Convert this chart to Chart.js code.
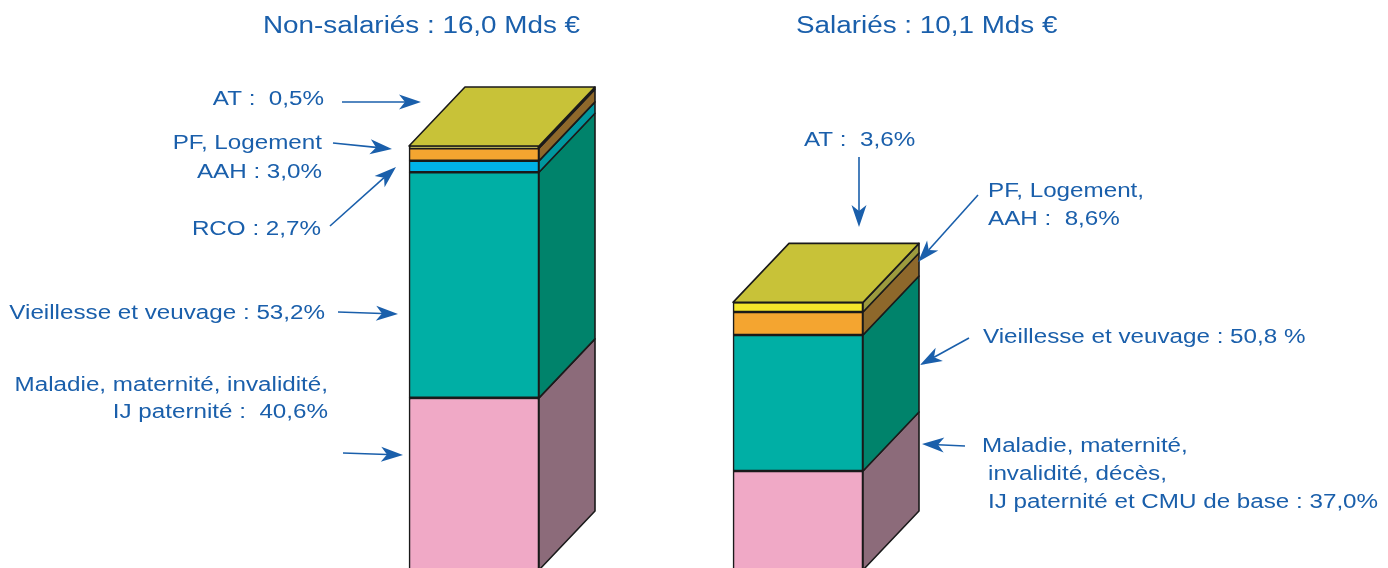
<!DOCTYPE html>
<html>
<head>
<meta charset="utf-8">
<script src="https://cdn.jsdelivr.net/npm/chart.js@4"></script>
<style>
html,body{margin:0;padding:0;background:#fff;overflow:hidden;}
#wrap{width:1388px;height:568px;overflow:hidden;position:relative;}
canvas{display:block;}
</style>
</head>
<body>
<div id="wrap"><canvas id="c" width="1388" height="600"></canvas></div>
<script>
// ---- data ----
const categories = ['Non-salariés', 'Salariés'];
const totalsMds = [16.0, 10.1];           // Mds €
const maladiePct = [40.6, 37.0];
const vieillessePct = [53.2, 50.8];
const rcoPct = [2.7, null];
const pfPct = [3.0, 8.6];
const atPct = [0.5, 3.6];

const fmt = v => v.toFixed(1).replace('.', ',');
const toMds = arr => arr.map((p, i) => p == null ? null : p * totalsMds[i] / 100);

const series = [
  { key: 'maladie',    pct: maladiePct,    front: '#f0a9c6', side: '#8c6b7a' },
  { key: 'vieillesse', pct: vieillessePct, front: '#00afa5', side: '#00836b' },
  { key: 'rco',        pct: rcoPct,        front: '#00b3e9', side: '#00979e' },
  { key: 'pf',         pct: pfPct,         front: '#f4a530', side: '#8e682b' },
  { key: 'at',         pct: atPct,         front: '#f5e62a', side: '#9c9a3e' }
];
const TOP_COLOR = '#c8c238';
const EDGE = '#1a1a1a';
const TXT = '#1a5fab';
const DX = 56, DY = -59;
const SX = 1.21; // horizontal text stretch of the original

const textItems = [
  // title
  { t: `${categories[0]} : ${fmt(totalsMds[0])} Mds €`, x: 263, y: 33, a: 'left', s: 23 },
  { t: `${categories[1]} : ${fmt(totalsMds[1])} Mds €`, x: 796, y: 33, a: 'left', s: 23 },
  // left bar
  { t: `AT :  ${fmt(atPct[0])}%`, x: 324, y: 105, a: 'right' },
  { t: 'PF, Logement', x: 322, y: 149, a: 'right' },
  { t: `AAH : ${fmt(pfPct[0])}%`, x: 322, y: 178, a: 'right' },
  { t: `RCO : ${fmt(rcoPct[0])}%`, x: 321, y: 235, a: 'right' },
  { t: `Vieillesse et veuvage : ${fmt(vieillessePct[0])}%`, x: 325, y: 319, a: 'right' },
  { t: 'Maladie, maternité, invalidité,', x: 328, y: 391, a: 'right' },
  { t: `IJ paternité :  ${fmt(maladiePct[0])}%`, x: 328, y: 418, a: 'right' },
  // right bar
  { t: `AT :  ${fmt(atPct[1])}%`, x: 804, y: 146, a: 'left' },
  { t: 'PF, Logement,', x: 988, y: 197, a: 'left' },
  { t: `AAH :  ${fmt(pfPct[1])}%`, x: 988, y: 225, a: 'left' },
  { t: `Vieillesse et veuvage : ${fmt(vieillessePct[1])} %`, x: 983, y: 343, a: 'left' },
  { t: 'Maladie, maternité,', x: 982, y: 452, a: 'left' },
  { t: 'invalidité, décès,', x: 988, y: 480, a: 'left' },
  { t: `IJ paternité et CMU de base : ${fmt(maladiePct[1])}%`, x: 988, y: 508, a: 'left' }
];

const arrows = [
  [342, 102, 421, 102],
  [333, 143, 392, 149],
  [330, 226, 396, 167],
  [338, 312, 398, 314],
  [343, 453, 403, 455],
  [859, 157, 859, 227],
  [978, 195, 918, 262],
  [969, 338, 920, 365],
  [965, 446, 922, 444]
];

function drawArrow(ctx, x1, y1, x2, y2) {
  const ang = Math.atan2(y2 - y1, x2 - x1);
  const L = 22, H = 7.5, N = 16;
  const c = Math.cos(ang), s = Math.sin(ang);
  const pt = (back, side) => [x2 - back * c - side * s, y2 - back * s + side * c];
  const notch = pt(N, 0);
  ctx.beginPath();
  ctx.moveTo(x1, y1);
  ctx.lineTo(notch[0], notch[1]);
  ctx.lineWidth = 1.6;
  ctx.strokeStyle = TXT;
  ctx.stroke();
  const a = pt(L, H), b = pt(L, -H);
  ctx.beginPath();
  ctx.moveTo(x2, y2);
  ctx.lineTo(a[0], a[1]);
  ctx.lineTo(notch[0], notch[1]);
  ctx.lineTo(b[0], b[1]);
  ctx.closePath();
  ctx.fillStyle = TXT;
  ctx.fill();
}

const threeD = {
  id: 'threeD',
  afterDatasetsDraw(chart) {
    const ctx = chart.ctx;
    ctx.save();
    ctx.lineJoin = 'round';
    const topEl = {};
    chart.data.datasets.forEach((ds, di) => {
      const meta = chart.getDatasetMeta(di);
      meta.data.forEach((el, i) => {
        if (ds.data[i] == null) return;
        const p = el.getProps(['x', 'y', 'base', 'width'], true);
        const right = p.x + p.width / 2;
        ctx.beginPath();
        ctx.moveTo(right, p.y);
        ctx.lineTo(right + DX, p.y + DY);
        ctx.lineTo(right + DX, p.base + DY);
        ctx.lineTo(right, p.base);
        ctx.closePath();
        ctx.fillStyle = ds.sideColor;
        ctx.fill();
        ctx.lineWidth = 1.6;
        ctx.strokeStyle = EDGE;
        ctx.stroke();
        topEl[i] = p;
      });
    });
    Object.values(topEl).forEach(p => {
      const left = p.x - p.width / 2, right = p.x + p.width / 2;
      ctx.beginPath();
      ctx.moveTo(left, p.y);
      ctx.lineTo(left + DX, p.y + DY);
      ctx.lineTo(right + DX, p.y + DY);
      ctx.lineTo(right, p.y);
      ctx.closePath();
      ctx.fillStyle = TOP_COLOR;
      ctx.fill();
      ctx.lineWidth = 1.6;
      ctx.strokeStyle = EDGE;
      ctx.stroke();
    });
    ctx.restore();
  },
  afterDraw(chart) {
    const ctx = chart.ctx;
    ctx.save();
    ctx.fillStyle = TXT;
    ctx.textBaseline = 'alphabetic';
    textItems.forEach(it => {
      ctx.save();
      ctx.translate(it.x, it.y);
      ctx.scale(SX, 1);
      ctx.font = `${it.s || 20}px "Liberation Sans", Arial, sans-serif`;
      ctx.textAlign = it.a;
      ctx.fillStyle = TXT;
      ctx.fillText(it.t, 0, 0);
      ctx.restore();
    });
    arrows.forEach(a => drawArrow(ctx, a[0], a[1], a[2], a[3]));
    ctx.restore();
  }
};

new Chart(document.getElementById('c'), {
  type: 'bar',
  data: {
    labels: categories,
    datasets: series.map(s => ({
      label: s.key,
      data: toMds(s.pct),
      backgroundColor: s.front,
      sideColor: s.side,
      borderColor: EDGE,
      borderWidth: 1.6,
      borderSkipped: false,
      barThickness: 130
    }))
  },
  options: {
    responsive: false,
    animation: false,
    layout: { padding: { left: 312, right: 428, top: 40, bottom: 30 } },
    plugins: { legend: { display: false }, tooltip: { enabled: false }, title: { display: false } },
    scales: {
      x: { stacked: true, display: false },
      y: { stacked: true, display: false, min: 0, max: 20 }
    }
  },
  plugins: [threeD]
});
</script>
</body>
</html>
